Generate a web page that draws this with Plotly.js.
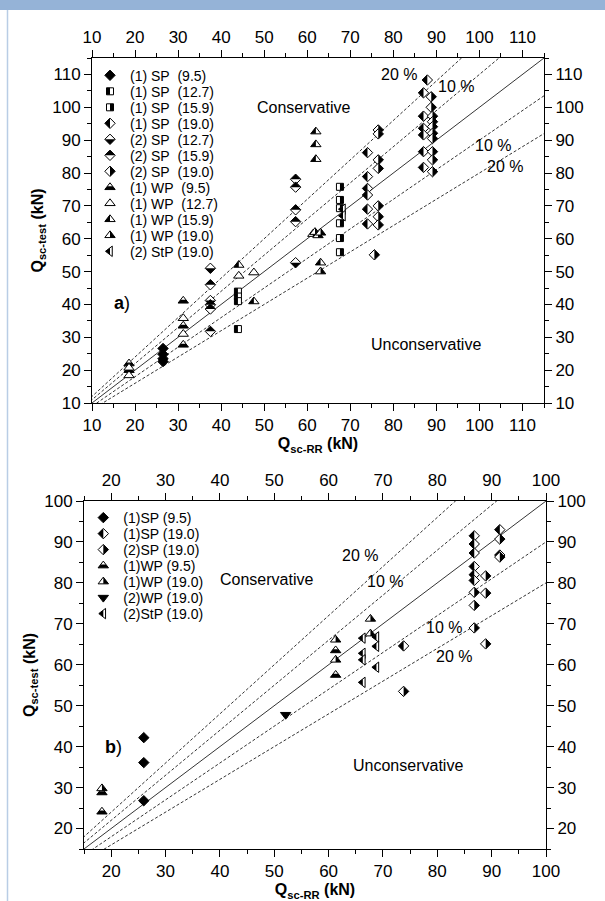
<!DOCTYPE html>
<html><head><meta charset="utf-8">
<script src="https://cdn.plot.ly/plotly-3.0.1.min.js"></script>
<style>html,body{margin:0;padding:0;background:#fff}#chart{width:605px;height:901px}</style>
</head><body><div id="chart"></div>
<script>
// ---------- Plot a) data ----------
const aRange = [10, 115];
const aSP1_95_x = [26.5, 26.5, 26.5, 26.5];
const aSP1_95_y = [26.6, 24.8, 23.5, 22.6];
const aSP1_127_x = [43.9, 43.9, 43.9, 43.9];
const aSP1_127_y = [43.9, 42.4, 41.0, 32.5];
const aSP1_159_x = [67.6, 67.6, 67.6, 67.6, 67.6, 67.6];
const aSP1_159_y = [75.8, 71.8, 69.3, 64.7, 60.2, 55.9];
const aSP1_190_x = [74.0, 74.0, 74.0, 74.0, 74.0, 74.0, 87.0, 87.0, 87.0, 87.0, 87.0, 87.0, 87.9];
const aSP1_190_y = [86.2, 78.9, 75.3, 73.3, 69.0, 64.5, 104.4, 97.3, 93.6, 91.6, 86.5, 81.7, 108.3];
const aSP2_127_x = [37.5, 37.5, 57.3];
const aSP2_127_y = [51.0, 41.2, 52.7];
const aSP2_159_x = [37.5, 37.5, 37.5, 37.5, 57.3, 57.3, 57.3, 57.3];
const aSP2_159_y = [46.0, 39.9, 38.6, 31.8, 78.1, 75.7, 68.8, 65.2];
const aSP2_190_x = [76.5, 76.5, 76.5, 76.5, 76.5, 76.5, 76.5, 75.6, 88.8, 88.8, 89.1, 89.1, 89.1, 89.1, 89.1, 89.1, 89.1, 89.1];
const aSP2_190_y = [93.1, 91.9, 84.0, 81.4, 70.0, 66.7, 64.2, 55.1, 103.2, 100.0, 97.3, 95.6, 94.1, 92.1, 90.5, 86.5, 84.0, 80.4];
const aWP1_95_x = [18.6, 18.6, 31.2, 31.2, 31.2];
const aWP1_95_y = [22.0, 20.0, 41.1, 33.5, 27.7];
const aWP1_127_x = [18.6, 18.6, 31.2, 31.2, 44.1, 47.6];
const aWP1_127_y = [20.7, 18.4, 35.8, 31.0, 48.7, 49.7];
const aWP1_159_x = [44.1, 47.6, 62.0, 62.0, 62.0, 63.1];
const aWP1_159_y = [52.0, 40.9, 92.6, 88.7, 84.2, 52.7];
const aWP1_190_x = [61.3, 61.8, 62.5, 63.1, 63.1];
const aWP1_190_y = [61.4, 62.0, 61.0, 61.8, 50.0];
const aStP2_190_x = [68.3, 68.3];
const aStP2_190_y = [69.0, 67.0];

// ---------- Plot b) data ----------
const bRange = [15, 100];
const bSP1_95_x = [26.0, 26.0, 26.0];
const bSP1_95_y = [42.2, 36.1, 26.8];
const bSP1_190_x = [86.8, 86.8, 86.8, 86.8, 86.8, 86.8, 91.5, 91.5, 73.8];
const bSP1_190_y = [91.5, 89.5, 87.3, 84.0, 82.0, 80.6, 93.0, 86.8, 64.6];
const bSP2_190_x = [86.8, 86.8, 86.8, 88.9, 88.9, 88.9, 91.5, 91.5, 73.8];
const bSP2_190_y = [77.7, 74.5, 69.0, 81.7, 77.5, 65.1, 90.7, 86.3, 53.5];
const bWP1_95_x = [18.3, 18.3, 61.3, 61.3];
const bWP1_95_y = [28.8, 24.1, 63.5, 57.5];
const bWP1_190_x = [18.3, 61.3, 61.3, 67.7, 67.7];
const bWP1_190_y = [29.8, 66.1, 61.2, 71.2, 67.6];
const bWP2_190_x = [52.1];
const bWP2_190_y = [47.8];
const bStP2_190_x = [66.3, 66.3, 66.3, 66.3, 68.8, 68.8, 68.8];
const bStP2_190_y = [66.5, 62.8, 61.2, 55.7, 66.8, 64.5, 59.4];

// reference lines: ratio of test to predicted
const ratios = [1.2, 1.1, 1.0, 0.9, 0.8];

const NB = '\u00A0';
const F = 'Arial, "Liberation Sans", sans-serif';
const traces = [];

function refLines(range, xa, ya) {
  ratios.forEach(r => {
    const xs = [range[0] - 20, range[1] + 20];
    traces.push({x: xs, y: xs.map(v => v * r), xaxis: xa, yaxis: ya, mode: 'lines',
      line: {color: '#000', width: 0.8, dash: r === 1 ? 'solid' : '3px,2px'},
      showlegend: false, hoverinfo: 'skip'});
  });
}
refLines(aRange, 'x', 'y');
refLines(bRange, 'x2', 'y2');

function series(name, xs, ys, sym, fill, half, size, xa, ya, leg) {
  traces.push({x: xs, y: ys, name: name, xaxis: xa, yaxis: ya, legend: leg, mode: 'markers',
    marker: {symbol: sym, size: size, color: fill, line: {color: '#000', width: 1}},
    meta: {half: half || ''}, hoverinfo: 'skip'});
}
const A = ['x', 'y', 'legend'];
series('(1) SP' + NB + ' (9.5)', aSP1_95_x, aSP1_95_y, 'diamond', '#000', '', 8, ...A);
series('(1) SP' + NB + ' (12.7)', aSP1_127_x, aSP1_127_y, 'square', '#fff', 'sq-left', 7, ...A);
series('(1) SP' + NB + ' (15.9)', aSP1_159_x, aSP1_159_y, 'square', '#fff', 'sq-right', 7, ...A);
series('(1) SP' + NB + ' (19.0)', aSP1_190_x, aSP1_190_y, 'diamond', '#fff', 'dm-left', 8, ...A);
series('(2) SP' + NB + ' (12.7)', aSP2_127_x, aSP2_127_y, 'diamond', '#fff', 'dm-bottom', 8, ...A);
series('(2) SP' + NB + ' (15.9)', aSP2_159_x, aSP2_159_y, 'diamond', '#fff', 'dm-top', 8, ...A);
series('(2) SP' + NB + ' (19.0)', aSP2_190_x, aSP2_190_y, 'diamond', '#fff', 'dm-right', 8, ...A);
series('(1) WP' + NB + ' (9.5)', aWP1_95_x, aWP1_95_y, 'triangle-up', '#fff', 'tri-bottom', 9, ...A);
series('(1) WP' + NB + ' (12.7)', aWP1_127_x, aWP1_127_y, 'triangle-up', '#fff', '', 9, ...A);
series('(1) WP (15.9)', aWP1_159_x, aWP1_159_y, 'triangle-up', '#fff', 'tri-left', 9, ...A);
series('(1) WP (19.0)', aWP1_190_x, aWP1_190_y, 'triangle-up', '#fff', 'tri-right', 9, ...A);
series('(2) StP (19.0)', aStP2_190_x, aStP2_190_y, 'triangle-left', '#fff', 'tl-left', 9, ...A);

const B = ['x2', 'y2', 'legend2'];
series('(1)SP (9.5)', bSP1_95_x, bSP1_95_y, 'diamond', '#000', '', 8, ...B);
series('(1)SP (19.0)', bSP1_190_x, bSP1_190_y, 'diamond', '#fff', 'dm-left', 8, ...B);
series('(2)SP (19.0)', bSP2_190_x, bSP2_190_y, 'diamond', '#fff', 'dm-right', 8, ...B);
series('(1)WP (9.5)', bWP1_95_x, bWP1_95_y, 'triangle-up', '#fff', 'tri-bottom', 9, ...B);
series('(1)WP (19.0)', bWP1_190_x, bWP1_190_y, 'triangle-up', '#fff', 'tri-right', 9, ...B);
series('(2)WP (19.0)', bWP2_190_x, bWP2_190_y, 'triangle-down', '#000', '', 9, ...B);
series('(2)StP (19.0)', bStP2_190_x, bStP2_190_y, 'triangle-left', '#fff', 'tl-left', 9, ...B);

// dummy traces so the mirrored (top / right) axes are drawn
[['x3', 'y'], ['x', 'y3'], ['x4', 'y2'], ['x2', 'y4']].forEach(p => traces.push({
  x: [null], y: [null], xaxis: p[0], yaxis: p[1], mode: 'markers', showlegend: false, hoverinfo: 'skip'}));

const ax = {showline: true, linecolor: '#000', linewidth: 1, ticks: 'outside', ticklen: 7, tickwidth: 1,
  tickcolor: '#000', tick0: 0, dtick: 10, showgrid: false, zeroline: false, fixedrange: true,
  tickfont: {family: F, size: 17, color: '#000'},
  minor: {tick0: 0, dtick: 5, ticks: 'outside', ticklen: 4, tickwidth: 1, tickcolor: '#000', showgrid: false}};
const W = 605, H = 901;
const aDomX = [92 / W, 544 / W], aDomY = [1 - 403 / H, 1 - 58 / H];
const bDomX = [84 / W, 546 / W], bDomY = [1 - 849 / H, 1 - 501 / H];
const xt = '<b>Q<sub>sc-RR</sub> (kN)</b>', yt = '<b>Q<sub>sc-test</sub> (kN)</b>';
const tf = {family: F, size: 16, color: '#000'};

function ann(xr, yr, x, y, text, size) {
  return {xref: xr, yref: yr, x: x, y: y, text: text, showarrow: false,
    font: {family: F, size: size || 16, color: '#000'}};
}

const layout = {
  width: W, height: H, margin: {l: 0, r: 0, t: 0, b: 0},
  paper_bgcolor: '#fff', plot_bgcolor: 'rgba(0,0,0,0)',
  font: {family: F, size: 16, color: '#000'},
  xaxis: Object.assign({}, ax, {domain: aDomX, range: aRange, anchor: 'y', title: {text: xt, font: tf, standoff: 3}}),
  yaxis: Object.assign({}, ax, {domain: aDomY, range: aRange, anchor: 'x', title: {text: yt, font: tf, standoff: 4}}),
  xaxis3: Object.assign({}, ax, {range: aRange, overlaying: 'x', side: 'top', anchor: 'y'}),
  yaxis3: Object.assign({}, ax, {range: aRange, overlaying: 'y', side: 'right', anchor: 'x'}),
  xaxis2: Object.assign({}, ax, {domain: bDomX, range: bRange, anchor: 'y2', title: {text: xt, font: tf, standoff: 3}}),
  yaxis2: Object.assign({}, ax, {domain: bDomY, range: bRange, anchor: 'x2', title: {text: yt, font: tf, standoff: 4}}),
  xaxis4: Object.assign({}, ax, {range: bRange, overlaying: 'x2', side: 'top', anchor: 'y2'}),
  yaxis4: Object.assign({}, ax, {range: bRange, overlaying: 'y2', side: 'right', anchor: 'x2'}),
  legend: {x: 90 / W, y: 1 - 59.7 / H, xanchor: 'left', yanchor: 'top', bgcolor: 'rgba(0,0,0,0)',
    borderwidth: 0, font: {family: F, size: 14, color: '#000'}, tracegroupgap: 0},
  legend2: {x: 83.3 / W, y: 1 - 502 / H, xanchor: 'left', yanchor: 'top', bgcolor: 'rgba(0,0,0,0)',
    borderwidth: 0, font: {family: F, size: 14, color: '#000'}, tracegroupgap: 0},
  annotations: [
    ann('x', 'y', 59.1, 99.8, 'Conservative'),
    ann('x', 'y', 87.6, 27.7, 'Unconservative'),
    ann('x', 'y', 81.4, 110.1, '20 %'),
    ann('x', 'y', 94.5, 106.2, '10 %'),
    ann('x', 'y', 103.1, 88.3, '10 %'),
    ann('x', 'y', 106.0, 81.9, '20 %'),
    ann('x', 'y', 16.9, 40.4, '<b>a</b>)', 18),
    ann('x2', 'y2', 48.6, 80.8, 'Conservative'),
    ann('x2', 'y2', 74.6, 35.5, 'Unconservative'),
    ann('x2', 'y2', 65.7, 86.6, '20 %'),
    ann('x2', 'y2', 70.3, 80.4, '10 %'),
    ann('x2', 'y2', 81.3, 69.1, '10 %'),
    ann('x2', 'y2', 83.0, 62.0, '20 %'),
    ann('x2', 'y2', 20.5, 40.0, '<b>b</b>)', 18)
  ],
  shapes: [
    {type: 'rect', xref: 'paper', yref: 'paper', x0: 0, x1: 1, y0: 1 - 10 / H, y1: 1,
      fillcolor: '#95B3D7', line: {width: 0}, layer: 'below'},
    {type: 'line', xref: 'paper', yref: 'paper', x0: 7.5 / W, x1: 7.5 / W, y0: 0, y1: 1 - 10 / H,
      line: {color: '#B9CDE5', width: 1.5}, layer: 'below'}
  ]
};

function halfPath(kind, r) {
  const rd = +(r * 1.3).toFixed(2), rt = +(r * 2 / Math.sqrt(3)).toFixed(2), r2 = +(r / 2).toFixed(2), rs = +r.toFixed(2);
  switch (kind) {
    case 'dm-left': return 'M0,-' + rd + 'L-' + rd + ',0L0,' + rd + 'Z';
    case 'dm-right': return 'M0,-' + rd + 'L' + rd + ',0L0,' + rd + 'Z';
    case 'dm-top': return 'M-' + rd + ',0L0,-' + rd + 'L' + rd + ',0Z';
    case 'dm-bottom': return 'M-' + rd + ',0L0,' + rd + 'L' + rd + ',0Z';
    case 'sq-left': return 'M-' + rs + ',-' + rs + 'H0V' + rs + 'H-' + rs + 'Z';
    case 'sq-right': return 'M0,-' + rs + 'H' + rs + 'V' + rs + 'H0Z';
    case 'tri-left': return 'M-' + rt + ',' + r2 + 'H0V-' + rs + 'Z';
    case 'tri-right': return 'M0,-' + rs + 'V' + r2 + 'H' + rt + 'Z';
    case 'tri-bottom': { const q = (r / 4).toFixed(2), h = (rt / 2).toFixed(2);
      return 'M-' + rt + ',' + r2 + 'H' + rt + 'L' + h + ',-' + q + 'H-' + h + 'Z'; }
    case 'tl-left': { const h = (2 * rt / 3).toFixed(2);
      return 'M-' + rs + ',0L0,-' + h + 'V' + h + 'Z'; }
  }
  return '';
}
function addHalf(p, kind, r) {
  const d = halfPath(kind, r);
  if (!d) return;
  const c = p.cloneNode(false);
  c.setAttribute('d', d);
  c.setAttribute('class', 'halfpt');
  c.setAttribute('style', 'fill:#000;stroke:none;opacity:1');
  p.parentNode.insertBefore(c, p.nextSibling);
}

const gd = document.getElementById('chart');
Plotly.newPlot(gd, traces, layout, {staticPlot: true, displayModeBar: false}).then(() => {
  gd.querySelectorAll('g.trace.scatter').forEach(g => {
    const cd = g.__data__;
    const tr = cd && cd[0] && cd[0].trace;
    if (!tr || !tr.meta || !tr.meta.half) return;
    g.querySelectorAll('path.point').forEach(p => addHalf(p, tr.meta.half, tr.marker.size / 2));
  });
  gd.querySelectorAll('g.legend, g.legend2').forEach(lg => {
    let y0 = null;
    lg.querySelectorAll('g.traces').forEach((it, k) => {
      const d = it.__data__;
      const tr = d && d[0] && d[0].trace;
      if (tr && tr.meta && tr.meta.half) {
        it.querySelectorAll('path.scatterpts').forEach(p => addHalf(p, tr.meta.half, tr.marker.size / 2));
      }
      const m = /translate\(\s*([-\d.e]+)[ ,]+([-\d.e]+)\s*\)/.exec(it.getAttribute('transform') || '');
      if (!m) return;
      const x = +m[1], y = +m[2];
      if (y0 === null) y0 = y;
      it.setAttribute('transform', 'translate(' + x + ',' + (y0 + k * 16) + ')');
    });
  });
  // drop empty text nodes (unused titles)
  gd.querySelectorAll('text').forEach(t => { if (!t.textContent.trim()) t.remove(); });
});
</script>
</body></html>
